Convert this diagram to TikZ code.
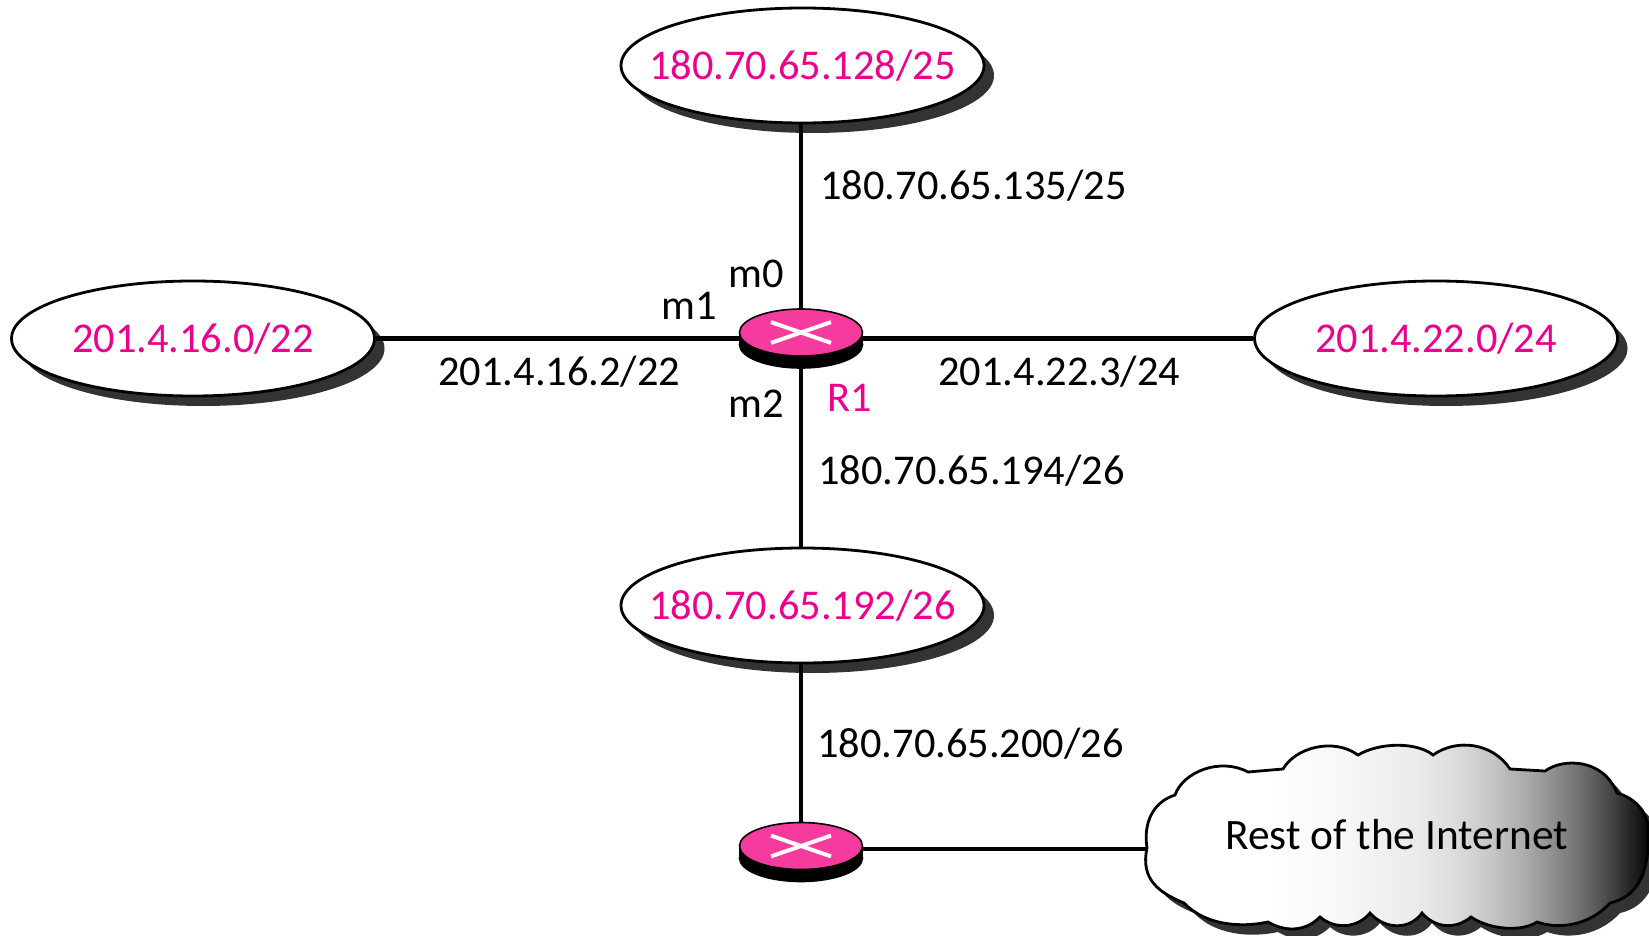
\documentclass[tikz,border=0pt]{standalone}
\usepackage{fontspec}
\setmainfont{Carlito}
\usepackage{tikz}
\usetikzlibrary{shapes.geometric,shadows,positioning}
\definecolor{netpink}{RGB}{236,0,140}
\definecolor{routerpink}{RGB}{245,59,158}
\definecolor{shadowgray}{RGB}{51,51,51}
\pgfdeclarehorizontalshading{inetfade}{100bp}{
  color(0bp)=(white); color(37.5bp)=(white); color(45bp)=(black!3);
  color(52bp)=(black!8); color(55.5bp)=(black!13); color(59bp)=(black!21);
  color(62.5bp)=(black!32); color(65.5bp)=(black!44); color(68.5bp)=(black!58);
  color(71.5bp)=(black!75); color(74.5bp)=(black!95); color(100bp)=(black)}
\newcommand{\netaddr}[1]{\makebox[0pt]{#1}}
\newcommand{\router}[2]{%
  \node[routerface, fill=black, yshift=-6pt] (#1low) at #2 {};
  \fill (#1low.west) rectangle ([yshift=6pt]#1low.east);
  \node[routerface, fill=routerpink, path picture={
    \draw[white, line width=2pt] ([xshift=-15pt,yshift=5.2pt]#1.center) -- ([xshift=15pt,yshift=-5.2pt]#1.center);
    \draw[white, line width=2pt] ([xshift=-15pt,yshift=-5.2pt]#1.center) -- ([xshift=15pt,yshift=5.2pt]#1.center);
  }] (#1) at #2 {};
}
\newcommand{\inetpath}{(1147,848)
  .. controls (1143,823) and (1153,802) .. (1175,795)
  .. controls (1183,772) and (1220,757) .. (1248,772)
  -- (1283,769)
  .. controls (1295,748) and (1333,737) .. (1358,755)
  .. controls (1380,742) and (1417,742) .. (1433,755)
  .. controls (1457,738) and (1493,743) .. (1510,769)
  -- (1545,771)
  .. controls (1563,758) and (1603,758) .. (1617,793)
  .. controls (1632,797) and (1645,808) .. (1648,825)
  .. controls (1650,860) and (1645,895) .. (1610,903)
  .. controls (1590,925) and (1560,930) .. (1537,922)
  .. controls (1522,932) and (1490,930) .. (1471,917)
  .. controls (1455,930) and (1435,928) .. (1422,913)
  .. controls (1410,930) and (1385,930) .. (1370,913)
  .. controls (1358,928) and (1335,930) .. (1320,917)
  .. controls (1305,932) and (1285,932) .. (1268,922)
  .. controls (1240,928) and (1205,925) .. (1184,903)
  .. controls (1160,893) and (1140,880) .. (1147,848) -- cycle}

\begin{document}
\begin{tikzpicture}[
  x=0.5pt, y=-0.5pt,
  every node/.style={font=\fontsize{21.2}{24}\selectfont},
  net/.style={ellipse, draw, fill=white, line width=1.4pt, inner sep=0pt,
    minimum width=181.5pt, minimum height=57.5pt, text=netpink,
    drop shadow={fill=shadowgray, opacity=1, shadow xshift=5pt, shadow yshift=-5pt}},
  routerface/.style={ellipse, draw, line width=0.8pt, inner sep=0pt,
    minimum width=61.5pt, minimum height=23.5pt},
  wire/.style={line width=2.4pt},
  lbl/.style={anchor=base west, inner sep=0pt}
]
\useasboundingbox (0,0) rectangle (1649,936);

% --- Rest of the Internet ---
\fill[shadowgray, xshift=5pt, yshift=-5pt] \inetpath;
\shade[shading=inetfade, draw=black, line width=1.4pt] \inetpath;
\node[lbl, font=\fontsize{21.7}{24}\selectfont] (inet) at (1225,849) {Rest of the Internet};
\coordinate (inetw) at (1147,849);

% --- Networks ---
\node[net] (net0) at (802.5,65.5) {\netaddr{180.70.65.128/25}};
\node[net] (net1) at (193,338.5) {\netaddr{201.4.16.0/22}};
\node[net] (net3) at (1436,338.5) {\netaddr{201.4.22.0/24}};
\node[net] (net2) at (802.5,605.5) {\netaddr{180.70.65.192/26}};

% --- Links ---
\coordinate (r1hub) at (801,338.5);
\coordinate (r2hub) at (801,849);
\draw[wire] (r1hub |- net0.south) -- (r1hub);
\draw[wire] (net1) -- (r1hub);
\draw[wire] (net3) -- (r1hub);
\draw[wire] (r1hub |- net2.north) -- (r1hub);
\draw[wire] (r2hub |- net2.south) -- (r2hub);
\draw[wire] (r2hub) -- (inetw);

% --- Routers ---
\router{r1}{(801,332.5)}
\router{r2}{(801,846)}

% --- Labels ---
\node[lbl, text=netpink] (r1name) at (827,411) {R1};
\node[lbl] (m0) at (728,288) {m0};
\node[lbl] (m1) at (661,320) {m1};
\node[lbl] (m2) at (728,417) {m2};
\node[lbl] (addr0) at (820,200) {180.70.65.135/25};
\node[lbl] (addr1) at (438,385) {201.4.16.2/22};
\node[lbl] (addr3) at (938,385) {201.4.22.3/24};
\node[lbl] (addr2) at (818,484) {180.70.65.194/26};
\node[lbl] (addr4) at (817,757) {180.70.65.200/26};

\end{tikzpicture}
\end{document}
